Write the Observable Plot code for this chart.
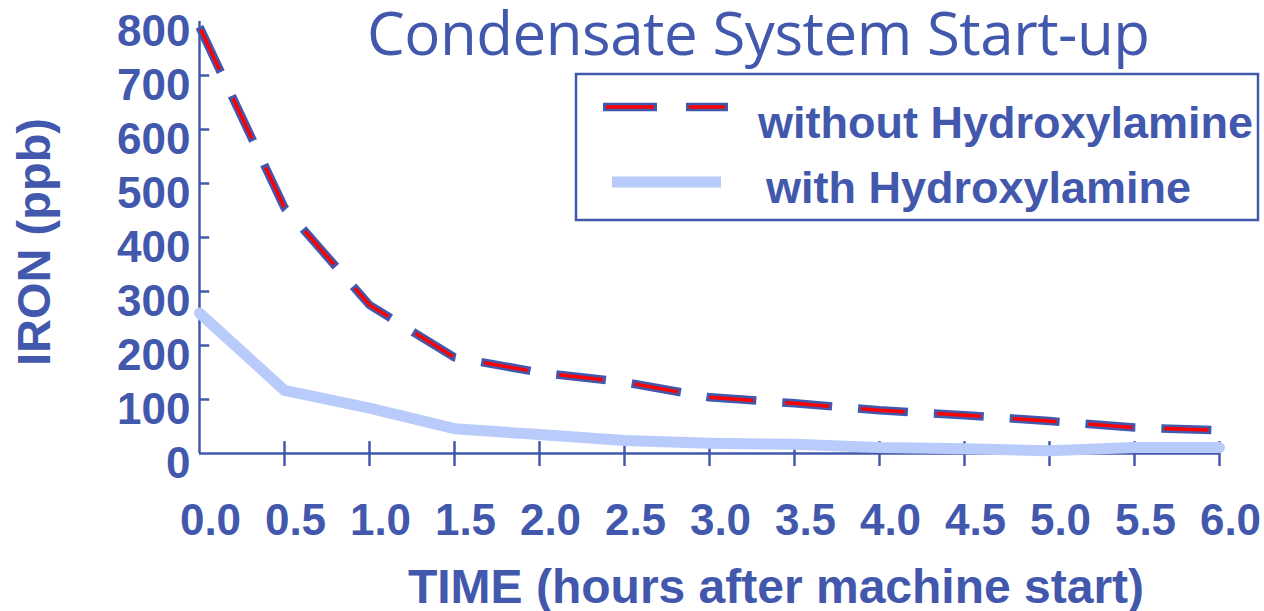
<!DOCTYPE html>
<html>
<head>
<meta charset="utf-8">
<script src="https://cdn.jsdelivr.net/npm/d3@7"></script>
<script src="https://cdn.jsdelivr.net/npm/@observablehq/plot@0.6"></script>
<style>
  html, body { margin: 0; padding: 0; background: #fff; }
  #chart svg { display: block; }
</style>
</head>
<body>
<div id="chart"></div>
<script>
// ---- data ----
const hours = [0, 0.5, 1.0, 1.5, 2.0, 2.5, 3.0, 3.5, 4.0, 4.5, 5.0, 5.5, 6.0];
const withoutHydroxylamine = [790, 455, 275, 178, 150, 132, 104, 93, 80, 71, 60, 48, 43];
const withHydroxylamine = [260, 117, 84, 46, 35, 24, 19, 17, 11, 9, 5, 11, 11];
const seriesNames = ["without Hydroxylamine", "with Hydroxylamine"];
const xTicks = [0, 0.5, 1.0, 1.5, 2.0, 2.5, 3.0, 3.5, 4.0, 4.5, 5.0, 5.5, 6.0];
const yTicks = [0, 100, 200, 300, 400, 500, 600, 700, 800];
const titleText = "Condensate System Start-up";
const xTitle = "TIME (hours after machine start)";
const yTitle = "IRON (ppb)";

const BLUE = "#4258AD";
const RED = "#FF0000";
const LIGHT = "#B9CBFA";

const rowsWithout = hours.map((h, i) => ({h, v: withoutHydroxylamine[i]}));
const rowsWith = hours.map((h, i) => ({h, v: withHydroxylamine[i]}));

const chart = Plot.plot({
  width: 1264,
  height: 611,
  marginLeft: 199,
  marginRight: 45,
  marginTop: 21,
  marginBottom: 158,
  style: {fontFamily: "'Liberation Sans', Arial, sans-serif", color: BLUE, background: "#fff", overflow: "visible"},
  x: {domain: [0, 6]},
  y: {domain: [0, 800]},
  marks: [
    // axis lines
    Plot.ruleY([0], {x1: 0, x2: 6, stroke: BLUE, strokeWidth: 2.5}),
    Plot.ruleX([0], {y1: 0, y2: 800, stroke: BLUE, strokeWidth: 2.5}),
    // y ticks (inward)
    Plot.ruleY(yTicks.filter(d => d > 0 && d < 800), {x1: 0, x2: 0.06, stroke: BLUE, strokeWidth: 2.5}),
    // x ticks (crossing)
    Plot.ruleX(xTicks.filter(d => d > 0), {y1: 22, y2: -24, stroke: BLUE, strokeWidth: 2.5}),
    Plot.axisY({ticks: yTicks, tickSize: 0, tickPadding: 9, dy: 10, fontSize: 44, fontWeight: "bold", fill: BLUE, label: null}),
    Plot.axisX({ticks: xTicks, tickFormat: d => d.toFixed(1), tickSize: 0, tickPadding: 50, dx: 11, fontSize: 44, fontWeight: "bold", fill: BLUE, label: null}),
    // without hydroxylamine: blue-outlined red dashes
    Plot.line(rowsWithout, {x: "h", y: "v", stroke: BLUE, strokeWidth: 8.5, strokeDasharray: "50,26", strokeLinecap: "butt", strokeLinejoin: "miter"}),
    Plot.line(rowsWithout, {x: "h", y: "v", stroke: RED, strokeWidth: 3.5, strokeDasharray: "44,32", strokeDashoffset: -3, strokeLinecap: "butt", strokeLinejoin: "miter"}),
    // with hydroxylamine: thick light blue
    Plot.line(rowsWith, {x: "h", y: "v", stroke: LIGHT, strokeWidth: 11, strokeLinecap: "round", strokeLinejoin: "round"})
  ]
});

document.getElementById("chart").appendChild(chart);

const svg = d3.select(chart);

// Title
svg.append("text")
  .attr("x", 367).attr("y", 55)
  .attr("text-anchor", "start")
  .attr("font-family", "'Open Sans', Lato, sans-serif")
  .attr("font-size", 60)
  .attr("font-weight", 400)
  .attr("fill", BLUE)
  .attr("textLength", 783)
  .text(titleText);

// Y axis title
svg.append("text")
  .attr("transform", "translate(50,242) rotate(-90)")
  .attr("text-anchor", "middle")
  .attr("font-size", 47)
  .attr("font-weight", "bold")
  .attr("fill", BLUE)
  .text(yTitle);

// X axis title
svg.append("text")
  .attr("x", 776).attr("y", 603)
  .attr("text-anchor", "middle")
  .attr("font-size", 48)
  .attr("font-weight", "bold")
  .attr("fill", BLUE)
  .text(xTitle);

// Legend
const lg = svg.append("g");
lg.append("rect")
  .attr("x", 576).attr("y", 74).attr("width", 682).attr("height", 146)
  .attr("fill", "#fff").attr("stroke", BLUE).attr("stroke-width", 2.5);
lg.append("line")
  .attr("x1", 603).attr("x2", 728).attr("y1", 107).attr("y2", 107)
  .attr("stroke", BLUE).attr("stroke-width", 8.5).attr("stroke-dasharray", "54,29");
lg.append("line")
  .attr("x1", 606).attr("x2", 725).attr("y1", 107).attr("y2", 107)
  .attr("stroke", RED).attr("stroke-width", 3.5).attr("stroke-dasharray", "48,35");
lg.append("line")
  .attr("x1", 612).attr("x2", 721).attr("y1", 182).attr("y2", 182)
  .attr("stroke", LIGHT).attr("stroke-width", 11);
lg.append("text")
  .attr("x", 758).attr("y", 138)
  .attr("text-anchor", "start")
  .attr("font-size", 45).attr("font-weight", "bold").attr("fill", BLUE)
  .text(seriesNames[0]);
lg.append("text")
  .attr("x", 766).attr("y", 203)
  .attr("text-anchor", "start")
  .attr("font-size", 45).attr("font-weight", "bold").attr("fill", BLUE)
  .text(seriesNames[1]);
</script>
</body>
</html>
